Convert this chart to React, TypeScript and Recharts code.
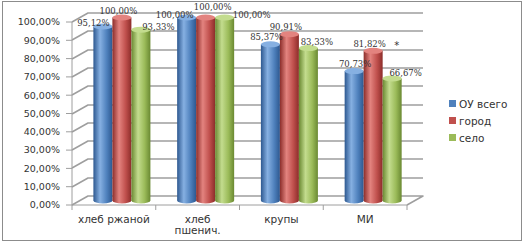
import { BarChart, Bar, XAxis, YAxis, CartesianGrid, LabelList } from 'recharts';

const categories = ['хлеб ржаной', 'хлеб\nпшенич.', 'крупы', 'МИ'];
const ouTotal = [0.9512, 1.0, 0.8537, 0.7073];
const city = [1.0, 1.0, 0.9091, 0.8182];
const village = [0.9333, 1.0, 0.8333, 0.6667];
const cityNotes = ['', '', '', '*'];
const yTicks = [0, 0.1, 0.2, 0.3, 0.4, 0.5, 0.6, 0.7, 0.8, 0.9, 1];

const data = categories.map((name, i) => ({
  name,
  ou: ouTotal[i],
  city: city[i],
  village: village[i],
}));

const W = 524;
const H = 242;
const Y_AXIS_W = 60;
const X_AXIS_H = 30;
const MARGIN = { top: 22, right: 117, bottom: 37 - X_AXIS_H, left: 72 - Y_AXIS_W };
const AXIS_X = MARGIN.left + Y_AXIS_W;
const PLOT_RIGHT = W - MARGIN.right;
const PLOT_BOTTOM = H - 37;
const DEPTH_X = 16;
const DEPTH_Y = -9;
const GRID = '#9e9e9e';
const TEXT = '#333';
const FONT = '"DejaVu Sans", Verdana, sans-serif';

// data labels were hand-placed in the original, so each gets its own nudge
const SERIES = [
  { key: 'ou', label: 'ОУ всего', color: '#4f81bd', dark: '#2d5890', light: '#86b0e2',
    dx: [-9.5, -12, -4, 1], dy: [-3.5, -2.5, -7, -7] },
  { key: 'city', label: 'город', color: '#c0504d', dark: '#8c2d2a', light: '#e3837f',
    dx: [-3.5, 7, -3.5, -3.5], dy: [-6.5, -10.5, -7, -7] },
  { key: 'village', label: 'село', color: '#9bbb59', dark: '#6a8932', light: '#c3dc8e',
    dx: [17.5, 27, 8.5, 13.5], dy: [-3, -2.5, -6, -5.5] },
];

const pct = (v: number) => (v * 100).toFixed(2).replace('.', ',') + '%';

function Cylinder(props: any) {
  const { x, y, width, height, gradId, top } = props;
  if (height == null || width == null) return null;
  const cx = x + DEPTH_X / 2;
  const cy = y + DEPTH_Y / 2;
  const ry = 3;
  return (
    <g>
      <ellipse cx={cx + width / 2} cy={cy + height} rx={width / 2} ry={ry} fill={`url(#${gradId})`} />
      <rect x={cx} y={cy} width={width} height={height} fill={`url(#${gradId})`} />
      <ellipse cx={cx + width / 2} cy={cy} rx={width / 2} ry={ry} fill={top} />
    </g>
  );
}

// back wall + left wall grid line of the 3D box; the floor also gets its right edge
function wallLine(props: any) {
  const { x1, x2, y1, index } = props;
  const y = Math.round(y1);
  const isFloor = Math.abs(y1 - PLOT_BOTTOM) < 1;
  const pts =
    `${x1},${y} ${x1 + DEPTH_X},${y + DEPTH_Y} ${x2 + DEPTH_X},${y + DEPTH_Y}` +
    (isFloor ? ` ${x2},${y}` : '');
  return (
    <polyline
      key={`wall-${index}`}
      points={pts}
      fill="none"
      stroke={GRID}
      strokeWidth={1.5}
      strokeLinejoin="round"
    />
  );
}

function ValueTick(props: any) {
  const { payload } = props;
  const y = payload.coordinate;
  return (
    <g>
      <line x1={AXIS_X - 6} y1={y} x2={AXIS_X} y2={y} stroke={GRID} />
      <text x={AXIS_X - 12} y={y} dy="0.35em" textAnchor="end" fontSize={9.5} fontFamily={FONT} fill={TEXT}>
        {pct(payload.value)}
      </text>
    </g>
  );
}

function CategoryTick(props: any) {
  const { x, y, payload, index, visibleTicksCount } = props;
  const band = (PLOT_RIGHT - AXIS_X) / (visibleTicksCount || 4);
  const lines = String(payload.value).split('\n');
  return (
    <g>
      {index === 0 && <line x1={x - band / 2} y1={y - 8} x2={x - band / 2} y2={y - 3} stroke={GRID} />}
      <line x1={x + band / 2} y1={y - 8} x2={x + band / 2} y2={y - 3} stroke={GRID} />
      <text x={x} y={y + 10} textAnchor="middle" fontSize={10.5} fontFamily={FONT} fill={TEXT}>
        {lines.map((l, i) => (
          <tspan key={i} x={x} dy={i === 0 ? 0 : 11}>{l}</tspan>
        ))}
      </text>
    </g>
  );
}

function makeLabel(s: typeof SERIES[number]) {
  return (props: any) => {
    const { x, y, width, value, index } = props;
    const cx = x + width / 2 + DEPTH_X / 2 + s.dx[index];
    const cy = y + DEPTH_Y / 2 + s.dy[index];
    const note = s.key === 'city' ? cityNotes[index] : '';
    return (
      <g>
        <text x={cx} y={cy} dy="0.35em" textAnchor="middle" fontSize={8.5} fontFamily='"DejaVu Serif", serif' fill={TEXT}>
          {pct(value)}
        </text>
        {note && (
          <text x={cx + 27} y={cy} dy="0.5em" textAnchor="middle" fontSize={10} fontFamily={FONT} fill={TEXT}>
            {note}
          </text>
        )}
      </g>
    );
  };
}

export default function App() {
  return (
    <div style={{ position: 'absolute', left: 0, top: 0, width: W, height: H, background: '#fff' }}>
      <div
        style={{
          position: 'absolute',
          left: 2,
          top: 1,
          width: 518,
          height: 238,
          border: '1px solid #8c8c8c',
        }}
      />
      <BarChart width={W} height={H} data={data} margin={MARGIN} barCategoryGap="16%" barGap={0}>
        <defs>
          {SERIES.map((s) => (
            <linearGradient key={s.key} id={`grad-${s.key}`} x1="0" y1="0" x2="1" y2="0">
              <stop offset="0%" stopColor={s.dark} />
              <stop offset="35%" stopColor={s.light} />
              <stop offset="70%" stopColor={s.color} />
              <stop offset="100%" stopColor={s.dark} />
            </linearGradient>
          ))}
        </defs>
        <CartesianGrid vertical={false} horizontal={wallLine} />
        <YAxis
          width={Y_AXIS_W}
          domain={[0, 1]}
          ticks={yTicks}
          interval={0}
          axisLine={{ stroke: GRID }}
          tickLine={false}
          tick={<ValueTick />}
        />
        <XAxis
          dataKey="name"
          height={X_AXIS_H}
          axisLine={{ stroke: GRID }}
          tickLine={false}
          interval={0}
          tick={<CategoryTick />}
        />
        {SERIES.map((s) => (
          <Bar
            key={s.key}
            dataKey={s.key}
            name={s.label}
            isAnimationActive={false}
            shape={(p: any) => <Cylinder {...p} gradId={`grad-${s.key}`} top={s.light} />}
          >
            <LabelList dataKey={s.key} content={makeLabel(s)} />
          </Bar>
        ))}
      </BarChart>
      <div style={{ position: 'absolute', left: 449, top: 95, fontFamily: FONT, fontSize: 10.5, color: TEXT }}>
        {SERIES.map((s) => (
          <div key={s.key} style={{ display: 'flex', alignItems: 'center', height: 17 }}>
            <span style={{ width: 7, height: 7, background: s.color, marginRight: 3 }} />
            {s.label}
          </div>
        ))}
      </div>
    </div>
  );
}
